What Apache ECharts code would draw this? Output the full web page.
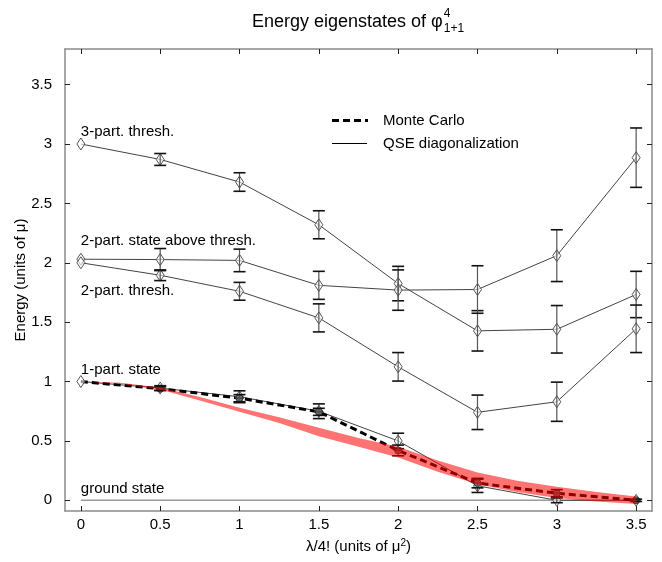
<!DOCTYPE html>
<html><head><meta charset="utf-8">
<script src="https://cdn.jsdelivr.net/npm/echarts@6/dist/echarts.min.js"></script>
<style>html,body{margin:0;padding:0;background:#fff}#c{width:662px;height:562px}</style>
</head><body><div id="c"></div>
<script>
// ---------------- data ----------------
const xValues = [0, 0.5, 1, 1.5, 2, 2.5, 3, 3.5];
const tickValuesX = [0, 0.5, 1, 1.5, 2, 2.5, 3, 3.5];
const tickValuesY = [0, 0.5, 1, 1.5, 2, 2.5, 3, 3.5];

const threePart    = [3.0, 2.87, 2.68, 2.32, 1.825, 1.427, 1.44, 1.733];
const threePartErr = [0, 0.05, 0.078, 0.118, 0.145, 0.17, 0.2, 0.195];

const aboveThresh    = [2.03, 2.027, 2.02, 1.81, 1.77, 1.775, 2.06, 2.885];
const aboveThreshErr = [0, 0.093, 0.095, 0.118, 0.17, 0.2, 0.218, 0.25];

const twoThresh    = [2.0, 1.895, 1.76, 1.536, 1.124, 0.741, 0.83, 1.444];
const twoThreshErr = [0, 0.045, 0.075, 0.118, 0.12, 0.145, 0.165, 0.2];

const onePart    = [1.0, 0.945, 0.872, 0.75, 0.5, 0.122, 0.0, 0.0];
const onePartErr = [0, 0.02, 0.05, 0.062, 0.065, 0.056, 0.02, 0];

const monteCarlo    = [1.0, 0.94, 0.86, 0.745, 0.42, 0.145, 0.06, 0.0];
const monteCarloErr = [0, 0.015, 0.03, 0.03, 0.045, 0.04, 0.03, 0.01];

const groundX = [0, 3.5];
const groundY = [0, 0];

const bandX    = [0, 0.25, 0.5, 0.75, 1, 1.25, 1.5, 1.75, 2, 2.25, 2.5, 2.75, 3, 3.25, 3.5];
const bandLow  = [1.0, 0.982, 0.932, 0.84, 0.745, 0.65, 0.54, 0.45, 0.36, 0.24, 0.135, 0.07, 0.02, -0.01, -0.032];
const bandHigh = [1.0, 0.99, 0.95, 0.87, 0.78, 0.70, 0.61, 0.525, 0.45, 0.335, 0.235, 0.165, 0.115, 0.07, 0.032];

const annotationText = ['3-part. thresh.', '2-part. state above thresh.', '2-part. thresh.', '1-part. state', 'ground state'];
const annotationX = [0, 0, 0, 0, 0];
const annotationY = [3.10, 2.184, 1.763, 1.098, 0.097];

const legendLabels = ['Monte Carlo', 'QSE diagonalization'];
const titleMain = 'Energy eigenstates of \u03C6';
const titleSup = '4';
const titleSub = '1+1';
const xName = '\u03BB/4! (units of \u03BC';
const yName = 'Energy (units of \u03BC)';

// ---------------- chart ----------------
const FONT = '"Liberation Sans", Arial, Helvetica, sans-serif';
const chart = echarts.init(document.getElementById('c'), null, {renderer: 'canvas'});

function pairs(xs, ys) { return xs.map((x, i) => [x, ys[i]]); }
function errData(vals, errs) {
  const out = [];
  xValues.forEach((x, i) => { if (errs[i] > 0) out.push([x, vals[i] - errs[i], vals[i] + errs[i]]); });
  return out;
}
function errRender(params, api) {
  const x = api.value(0), lo = api.value(1), hi = api.value(2);
  const p1 = api.coord([x, lo]), p2 = api.coord([x, hi]);
  const hw = 6;
  return {type: 'group', children: [
    {type: 'line', shape: {x1: p1[0], y1: p1[1], x2: p2[0], y2: p2[1]}, style: {stroke: '#555', lineWidth: 1.2}},
    {type: 'line', shape: {x1: p1[0] - hw, y1: p1[1], x2: p1[0] + hw, y2: p1[1]}, style: {stroke: '#111', lineWidth: 1.6}},
    {type: 'line', shape: {x1: p2[0] - hw, y1: p2[1], x2: p2[0] + hw, y2: p2[1]}, style: {stroke: '#111', lineWidth: 1.6}}
  ]};
}
function diamondRender(params, api) {
  const p = api.coord([api.value(0), api.value(1)]);
  const w = 4, h = 6;
  return {type: 'polygon', shape: {points: [[p[0], p[1] - h], [p[0] + w, p[1]], [p[0], p[1] + h], [p[0] - w, p[1]]]},
          style: {fill: 'rgba(255,255,255,0.6)', stroke: '#555', lineWidth: 1}};
}
function mcRender(params, api) {
  const p = api.coord([api.value(0), api.value(1)]);
  const r = 3.5;
  return {type: 'group', children: [
    {type: 'circle', shape: {cx: p[0], cy: p[1], r: r}, style: {fill: '#777', stroke: '#333', lineWidth: 1}},
    {type: 'line', shape: {x1: p[0] - r - 1, y1: p[1], x2: p[0] + r + 1, y2: p[1]}, style: {stroke: '#333', lineWidth: 1}}
  ]};
}
function bandRender(params, api) {
  if (params.dataIndex !== 0) return null;
  const pts = [];
  for (let i = 0; i < bandX.length; i++) pts.push(api.coord([bandX[i], bandHigh[i]]));
  for (let i = bandX.length - 1; i >= 0; i--) pts.push(api.coord([bandX[i], bandLow[i]]));
  return {type: 'polygon', shape: {points: pts}, style: {fill: 'rgba(255,0,0,0.55)'}};
}
function annotationRender(params, api) {
  const p = api.coord([api.value(0), api.value(1)]);
  return {type: 'text', x: p[0], y: p[1],
          style: {text: annotationText[params.dataIndex], font: '15px "Liberation Sans"', fill: '#000',
                  textAlign: 'left', textVerticalAlign: 'middle'}};
}
function qseLine(name, vals) {
  return {
    type: 'line', name: name, data: pairs(xValues, vals), z: 2, symbol: 'none',
    lineStyle: {color: '#444', width: 1}, animation: false
  };
}
function markerSeries(vals) {
  return {type: 'custom', renderItem: diamondRender, data: pairs(xValues, vals),
          encode: {x: 0, y: 1}, z: 3, animation: false, silent: true};
}
function errSeries(vals, errs) {
  return {
    type: 'custom', renderItem: errRender, data: errData(vals, errs),
    encode: {x: 0, y: [1, 2]}, z: 4, animation: false, silent: true
  };
}

// title measurement
const mctx = document.createElement('canvas').getContext('2d');
mctx.font = '18px "Liberation Sans"';
const wMain = mctx.measureText(titleMain).width;
mctx.font = '12px "Liberation Sans"';
const wScript = Math.max(mctx.measureText(titleSup).width, mctx.measureText(titleSub).width);
const titleLeft = 358 - (wMain + 1 + wScript) / 2;

const axisCommon = {
  type: 'value',
  axisLine: {show: true, onZero: false, lineStyle: {color: '#8a8a8a', width: 1.5}},
  splitLine: {show: false},
};

const option = {
  backgroundColor: '#fff',
  animation: false,
  grid: {left: 65, right: 10, top: 49, bottom: 51, containLabel: false, outerBoundsMode: 'none'},
  xAxis: [
    Object.assign({}, axisCommon, {
      min: -0.1, max: 3.6, position: 'bottom',
      axisTick: {show: true, inside: true, length: 5, customValues: tickValuesX, lineStyle: {color: '#222', width: 1}},
      axisLabel: {customValues: tickValuesX, fontSize: 15, color: '#000', fontFamily: FONT, margin: 6},
      name: '{a|' + xName + '}{s|2}{a|)}', nameLocation: 'middle', nameGap: 27, nameMoveOverlap: false,
      nameTextStyle: {fontSize: 15, color: '#000', fontFamily: FONT,
        rich: {a: {fontSize: 15, fontFamily: FONT, color: '#000', lineHeight: 18},
               s: {fontSize: 10, fontFamily: FONT, color: '#000', lineHeight: 18, verticalAlign: 'top', padding: [0, 0, 8, 0]}}}
    }),
    Object.assign({}, axisCommon, {
      min: -0.1, max: 3.6, position: 'top',
      axisTick: {show: true, inside: true, length: 5, customValues: tickValuesX, lineStyle: {color: '#222', width: 1}},
      axisLabel: {show: false}
    })
  ],
  yAxis: [
    Object.assign({}, axisCommon, {
      min: -0.09, max: 3.8, position: 'left',
      axisTick: {show: true, inside: true, length: 5, customValues: tickValuesY, lineStyle: {color: '#222', width: 1}},
      axisLabel: {customValues: tickValuesY, fontSize: 15, color: '#000', fontFamily: FONT, margin: 13},
      name: yName, nameLocation: 'middle', nameGap: 37, nameMoveOverlap: false,
      nameTextStyle: {fontSize: 15, color: '#000', fontFamily: FONT}
    }),
    Object.assign({}, axisCommon, {
      min: -0.09, max: 3.8, position: 'right',
      axisTick: {show: true, inside: true, length: 5, customValues: tickValuesY, lineStyle: {color: '#222', width: 1}},
      axisLabel: {show: false}
    })
  ],
  series: [
    {type: 'line', name: 'ground', data: pairs(groundX, groundY), symbol: 'none', z: 1,
     lineStyle: {color: '#9a9a9a', width: 1.6}, animation: false},
    qseLine('3-part', threePart),
    qseLine('2-part above', aboveThresh),
    qseLine('2-part thresh', twoThresh),
    qseLine('1-part', onePart),
    {type: 'line', name: 'Monte Carlo', data: pairs(xValues, monteCarlo), symbol: 'none', z: 2,
     lineStyle: {color: '#000', width: 3, type: [7, 4]}, animation: false},
    markerSeries(threePart),
    markerSeries(aboveThresh),
    markerSeries(twoThresh),
    markerSeries(onePart),
    {type: 'custom', renderItem: mcRender, data: pairs(xValues, monteCarlo).slice(1),
     encode: {x: 0, y: 1}, z: 3, animation: false, silent: true},
    errSeries(threePart, threePartErr),
    errSeries(aboveThresh, aboveThreshErr),
    errSeries(twoThresh, twoThreshErr),
    errSeries(onePart, onePartErr),
    errSeries(monteCarlo, monteCarloErr),
    {type: 'custom', renderItem: bandRender, data: pairs(bandX, bandLow), encode: {x: 0, y: 1}, z: 5, silent: true, animation: false},
    {type: 'custom', renderItem: annotationRender, data: pairs(annotationX, annotationY), encode: {x: 0, y: 1},
     z: 6, silent: true, animation: false, clip: false}
  ],
  graphic: [
    {type: 'text', x: titleLeft, y: 22.5, style: {text: titleMain, font: '18px "Liberation Sans"', fill: '#000', textVerticalAlign: 'middle'}},
    {type: 'text', x: titleLeft + wMain + 1, y: 14, style: {text: titleSup, font: '12px "Liberation Sans"', fill: '#000', textVerticalAlign: 'middle'}},
    {type: 'text', x: titleLeft + wMain + 1, y: 29, style: {text: titleSub, font: '12px "Liberation Sans"', fill: '#000', textVerticalAlign: 'middle'}},
    {type: 'line', shape: {x1: 332, y1: 120.5, x2: 368, y2: 120.5}, style: {stroke: '#000', lineWidth: 3, lineDash: [7, 4]}},
    {type: 'line', shape: {x1: 332, y1: 143.5, x2: 367, y2: 143.5}, style: {stroke: '#000', lineWidth: 1.2}},
    {type: 'text', x: 383, y: 120.5, style: {text: legendLabels[0], font: '15px "Liberation Sans"', fill: '#000', textVerticalAlign: 'middle'}},
    {type: 'text', x: 383, y: 143.5, style: {text: legendLabels[1], font: '15px "Liberation Sans"', fill: '#000', textVerticalAlign: 'middle'}}
  ]
};
chart.setOption(option);
</script>
</body></html>
